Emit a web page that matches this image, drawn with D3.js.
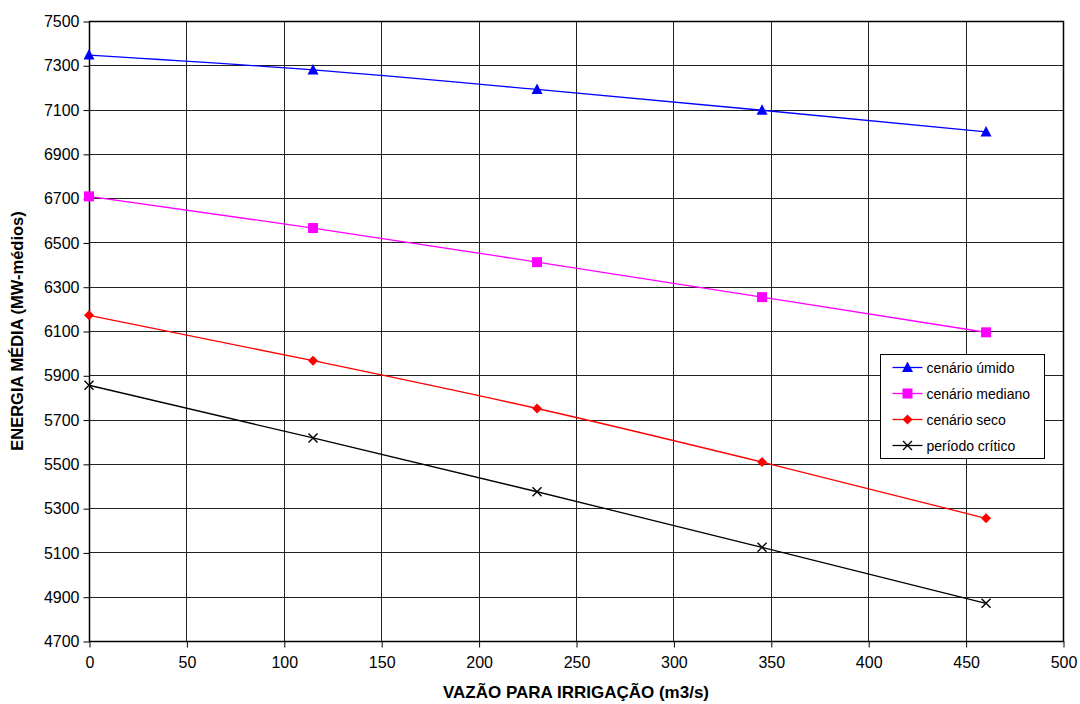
<!DOCTYPE html>
<html>
<head>
<meta charset="utf-8">
<script src="https://cdn.jsdelivr.net/npm/d3@7"></script>
<style>
  html, body { margin: 0; padding: 0; background: #fff; }
  svg { display: block; font-family: "Liberation Sans", Arial, sans-serif; }
</style>
</head>
<body>
<svg id="chart" width="1080" height="704"></svg>
<script>
// Irrigation flow (m3/s) on the horizontal axis
const vazao = [0, 115, 230, 345.5, 460.5];

// Average energy (MW-médios) for each hydrological scenario
const cenarioUmido   = [7346, 7279, 7191, 7097, 6999];
const cenarioMediano = [6708, 6565, 6411, 6253, 6094];
const cenarioSeco    = [6171, 5966, 5750, 5508, 5254];
const periodoCritico = [5855, 5617, 5374, 5123, 4870];

const seriesNames = ["cenário úmido", "cenário mediano", "cenário seco", "período crítico"];
const seriesColors = ["#0000ff", "#ff00ff", "#ff0000", "#000000"];
const seriesMarkers = ["triangle", "square", "diamond", "cross"];

const xTicks = [0, 50, 100, 150, 200, 250, 300, 350, 400, 450, 500];
const yTicks = [4700, 4900, 5100, 5300, 5500, 5700, 5900, 6100, 6300, 6500, 6700, 6900, 7100, 7300, 7500];

const seriesValues = [cenarioUmido, cenarioMediano, cenarioSeco, periodoCritico];
const series = seriesNames.map((name, i) => ({
  name,
  color: seriesColors[i],
  marker: seriesMarkers[i],
  points: vazao.map((x, j) => ({ x, y: seriesValues[i][j] }))
}));

const svg = d3.select("#chart");
const plot = { left: 89, right: 1063, top: 21, bottom: 641 };

const x = d3.scaleLinear().domain([0, 500]).range([plot.left, plot.right]);
const y = d3.scaleLinear().domain([4700, 7500]).range([plot.bottom, plot.top]);

// Gridlines
const grid = svg.append("g");
grid.selectAll("line.h").data(yTicks).join("line")
  .attr("x1", plot.left).attr("x2", plot.right)
  .attr("y1", d => Math.round(y(d)) + 0.5).attr("y2", d => Math.round(y(d)) + 0.5)
  .attr("stroke", "#222").attr("stroke-width", 1);
grid.selectAll("line.v").data(xTicks).join("line")
  .attr("y1", plot.top).attr("y2", plot.bottom)
  .attr("x1", d => Math.round(x(d)) + 0.5).attr("x2", d => Math.round(x(d)) + 0.5)
  .attr("stroke", "#222").attr("stroke-width", 1);

// Axes
const yAxis = d3.axisLeft(y).tickValues(yTicks).tickSize(6).tickPadding(4).tickFormat(d3.format("d"));
const xAxis = d3.axisBottom(x).tickValues(xTicks).tickSize(6).tickPadding(9).tickFormat(d3.format("d"));

const gy = svg.append("g").attr("transform", `translate(${plot.left + 0.5},0.5)`).call(yAxis);
const gx = svg.append("g").attr("transform", `translate(0.5,${plot.bottom + 0.5})`).call(xAxis);
[gx, gy].forEach(g => {
  g.select(".domain").remove();
  g.selectAll(".tick line").attr("stroke", "#000");
  g.selectAll(".tick text").attr("fill", "#000").style("font-size", "16px");
});

// Plot frame
svg.append("rect")
  .attr("x", plot.left + 0.5).attr("y", plot.top + 0.5)
  .attr("width", plot.right - plot.left).attr("height", plot.bottom - plot.top)
  .attr("fill", "none").attr("stroke", "#000").attr("stroke-width", 1.5);

// Axis titles
svg.append("text")
  .attr("x", 576).attr("y", 698)
  .attr("text-anchor", "middle")
  .style("font-size", "17px").style("font-weight", "bold")
  .text("VAZÃO PARA IRRIGAÇÃO (m3/s)");

svg.append("text")
  .attr("transform", "translate(23,331) rotate(-90)")
  .attr("text-anchor", "middle")
  .style("font-size", "16.5px").style("font-weight", "bold")
  .text("ENERGIA MÉDIA (MW-médios)");

// Marker drawing
function drawMarker(g, type, color) {
  if (type === "triangle") {
    g.append("path").attr("d", "M0,-6L5.5,4.5L-5.5,4.5Z").attr("fill", color);
  } else if (type === "square") {
    g.append("rect").attr("x", -5).attr("y", -5).attr("width", 10).attr("height", 10).attr("fill", color);
  } else if (type === "diamond") {
    g.append("path").attr("d", "M0,-5L5,0L0,5L-5,0Z").attr("fill", color);
  } else if (type === "cross") {
    g.append("path").attr("d", "M-4.5,-4.5L4.5,4.5M-4.5,4.5L4.5,-4.5").attr("stroke", color).attr("stroke-width", 1.4).attr("fill", "none");
  }
}

const line = d3.line().x(d => x(d.x)).y(d => y(d.y)).curve(d3.curveMonotoneX);

series.forEach(s => {
  svg.append("path")
    .datum(s.points)
    .attr("d", line)
    .attr("fill", "none")
    .attr("stroke", s.color)
    .attr("stroke-width", 1.3);
  svg.append("g").selectAll("g").data(s.points).join("g")
    .attr("transform", d => `translate(${x(d.x)},${y(d.y)})`)
    .each(function() { drawMarker(d3.select(this), s.marker, s.color); });
});

// Legend
const legend = svg.append("g").attr("transform", "translate(880.5,354.5)");
legend.append("rect").attr("width", 164).attr("height", 104)
  .attr("fill", "#fff").attr("stroke", "#000").attr("stroke-width", 1);
series.forEach((s, i) => {
  const row = legend.append("g").attr("transform", `translate(0,${13 + i * 26})`);
  row.append("line").attr("x1", 12).attr("x2", 42).attr("y1", 0).attr("y2", 0)
    .attr("stroke", s.color).attr("stroke-width", 1.3);
  drawMarker(row.append("g").attr("transform", "translate(27,0)"), s.marker, s.color);
  row.append("text").attr("x", 46).attr("y", 5)
    .style("font-size", "14px").attr("fill", "#000").text(s.name);
});
</script>
</body>
</html>
